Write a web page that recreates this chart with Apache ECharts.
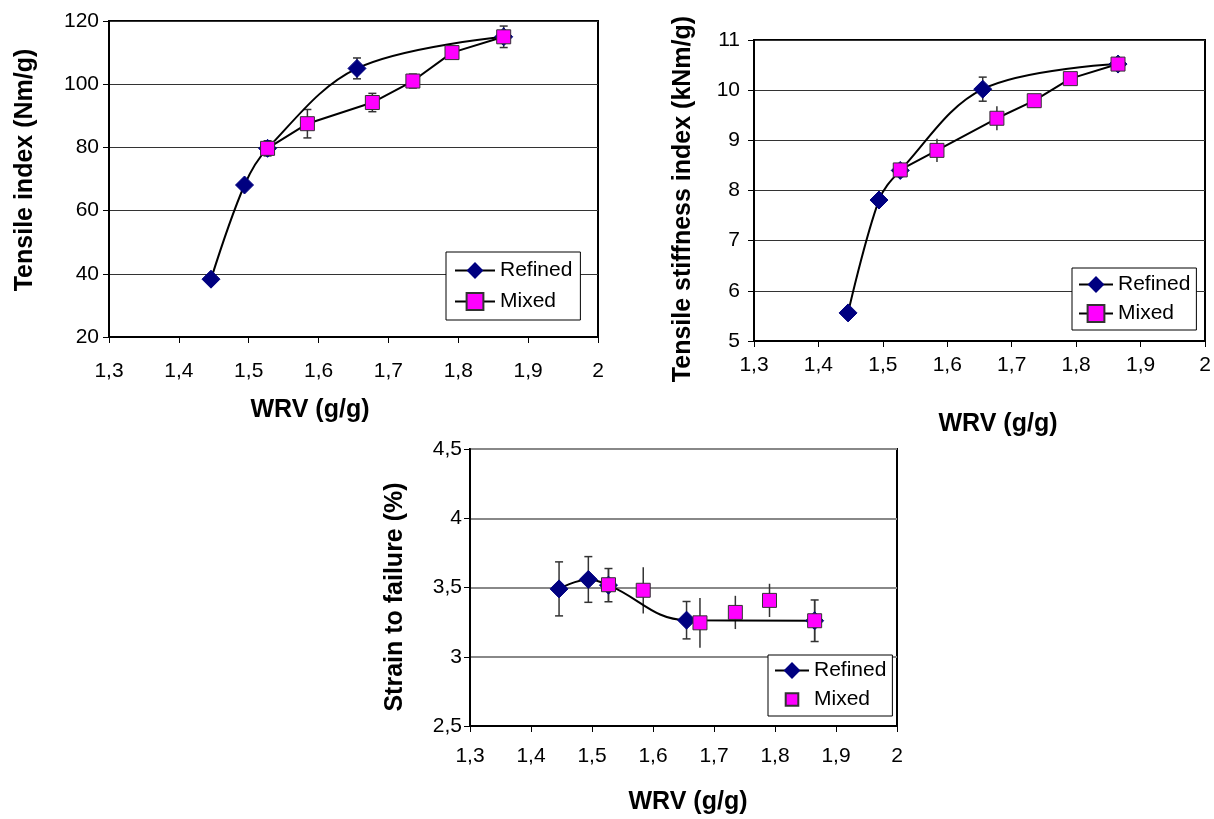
<!DOCTYPE html>
<html><head><meta charset="utf-8">
<script src="https://cdn.jsdelivr.net/npm/echarts@6/dist/echarts.min.js"></script>
<style>
html,body{margin:0;padding:0;background:#fff;width:1214px;height:819px;overflow:hidden}
.c{position:absolute;left:0;top:0;width:1214px;height:819px}
</style></head>
<body>
<div id="c1" class="c"></div><div id="c2" class="c"></div><div id="c3" class="c"></div>
<script>
// ---- data ----
const seriesNames = ['Refined', 'Mixed'];
const refinedX = [1.446, 1.494, 1.527, 1.655, 1.865];
const mixedX   = [1.527, 1.584, 1.677, 1.735, 1.791, 1.865];

const tensileRefined    = [38.3, 68.1, 79.7, 105.0, 115.0];
const tensileRefinedErr = [0, 0, 2.4, 3.3, 3.4];
const tensileMixed      = [79.7, 87.5, 94.2, 101.0, 110.0, 115.0];
const tensileMixedErr   = [1.5, 4.5, 2.9, 2.2, 1.0, 1.5];

const stiffRefined    = [5.56, 7.81, 8.40, 10.02, 10.52];
const stiffRefinedErr = [0, 0, 0.12, 0.24, 0.12];
const stiffMixed      = [8.41, 8.80, 9.44, 9.79, 10.23, 10.52];
const stiffMixedErr   = [0.1, 0.23, 0.24, 0.13, 0.12, 0.1];

const strainRefined    = [3.49, 3.558, 3.517, 3.264, 3.26];
const strainRefinedErr = [0.195, 0.165, 0.12, 0.135, 0.15];
const strainMixed      = [3.52, 3.48, 3.245, 3.32, 3.407, 3.26];
const strainMixedErr   = [0.12, 0.167, 0.18, 0.12, 0.12, 0.15];

const xTitle = 'WRV (g/g)';
const yTitles = ['Tensile index (Nm/g)', 'Tensile stiffness index (kNm/g)', 'Strain to failure (%)'];
const xRange = [1.3, 2, 0.1];
const yRanges = [[20, 120, 20], [5, 11, 1], [2.5, 4.5, 0.5]];

// ---- helpers ----
const FONT = '"Liberation Sans", Arial, sans-serif';
const fmt = v => String(Math.round(v * 10) / 10).replace('.', ',');
const pairs = (xs, ys) => xs.map((x, i) => [x, ys[i]]);
const errData = (xs, ys, es) => xs.map((x, i) => [x, ys[i] - es[i], ys[i] + es[i], es[i]]).filter(d => d[3] > 0);
// square legend icon with transparent margin so it stays small
const SQUARE = 'path://M-4,-4M0,0L12,0L12,12L0,12ZM16,16';

function errSeries(data, cap, color) {
  return {
    type: 'custom', z: 2, silent: true, data: data,
    encode: {x: 0, y: [1, 2]},
    renderItem: function (params, api) {
      const p1 = api.coord([api.value(0), api.value(1)]);
      const p2 = api.coord([api.value(0), api.value(2)]);
      const st = {stroke: color, lineWidth: 1.5};
      const ch = [{type: 'line', shape: {x1: p1[0], y1: p1[1], x2: p2[0], y2: p2[1]}, style: st}];
      if (cap) {
        ch.push({type: 'line', shape: {x1: p1[0] - 4, y1: p1[1], x2: p1[0] + 4, y2: p1[1]}, style: st});
        ch.push({type: 'line', shape: {x1: p2[0] - 4, y1: p2[1], x2: p2[0] + 4, y2: p2[1]}, style: st});
      }
      return {type: 'group', children: ch};
    }
  };
}

function build(cfg) {
  const yr = yRanges[cfg.idx];
  const series = [
    errSeries(errData(refinedX, cfg.ref, cfg.refErr), true, '#333'),
    errSeries(errData(mixedX, cfg.mix, cfg.mixErr), cfg.mixCap, '#333'),
    {
      name: seriesNames[0], type: 'line', z: 4, data: pairs(refinedX, cfg.ref), smooth: cfg.smooth,
      symbol: 'diamond', symbolSize: 18,
      itemStyle: {color: '#000080', borderColor: '#000080'},
      lineStyle: {color: '#000', width: 2}
    },
    cfg.mixLine ? {
      name: seriesNames[1], type: 'line', z: 5, data: pairs(mixedX, cfg.mix),
      symbol: 'rect', symbolSize: 14,
      itemStyle: {color: '#FF00FF', borderColor: '#333', borderWidth: 1},
      lineStyle: {color: '#000', width: 2}
    } : {
      name: seriesNames[1], type: 'scatter', z: 5, data: pairs(mixedX, cfg.mix),
      symbol: 'rect', symbolSize: 14,
      itemStyle: {color: '#FF00FF', borderColor: '#333', borderWidth: 1, opacity: 1}
    }
  ];
  const legendData = cfg.mixLine ? seriesNames : [seriesNames[0], {name: seriesNames[1], icon: SQUARE}];
  return {
    animation: false,
    backgroundColor: 'transparent',
    grid: {left: cfg.grid[0], top: cfg.grid[1], width: cfg.grid[2], height: cfg.grid[3],
           show: true, borderColor: '#000', borderWidth: 2, backgroundColor: 'transparent', containLabel: false},
    xAxis: {
      type: 'value', min: xRange[0], max: xRange[1], interval: xRange[2],
      axisLine: {show: true, onZero: false, lineStyle: {color: '#000', width: 2}},
      axisTick: {show: true, inside: false, length: 6, lineStyle: {color: '#000', width: 1}},
      axisLabel: {color: '#000', fontSize: 21, fontFamily: FONT, margin: cfg.xMargin, formatter: fmt},
      splitLine: {show: false}
    },
    yAxis: {
      type: 'value', min: yr[0], max: yr[1], interval: yr[2],
      axisLine: {show: true, onZero: false, lineStyle: {color: '#000', width: 2}},
      axisTick: {show: true, inside: false, length: 6, lineStyle: {color: '#000', width: 1}},
      axisLabel: {color: '#000', fontSize: 21, fontFamily: FONT, margin: cfg.yMargin, formatter: fmt},
      splitLine: {show: true, lineStyle: {color: cfg.splitColor, width: cfg.splitWidth}}
    },
    legend: {
      data: legendData, orient: 'vertical', left: cfg.legend[0], top: cfg.legend[1],
      backgroundColor: '#fff', borderColor: '#000', borderWidth: 1,
      padding: cfg.legendPad, itemGap: cfg.legendGap, itemWidth: cfg.legendIconW, itemHeight: 21,
      textStyle: {color: '#000', fontSize: 21, fontFamily: FONT}
    },
    graphic: [
      {type: 'text', x: cfg.yTitlePos[0], y: cfg.yTitlePos[1], rotation: Math.PI / 2, z: 10,
       style: {text: yTitles[cfg.idx], fontSize: 25, fontWeight: 'bold', fontFamily: FONT, fill: '#000',
               align: 'center', verticalAlign: 'middle'}},
      {type: 'text', x: cfg.xTitlePos[0], y: cfg.xTitlePos[1], z: 10,
       style: {text: xTitle, fontSize: 25, fontWeight: 'bold', fontFamily: FONT, fill: '#000',
               align: 'center', verticalAlign: 'middle'}}
    ],
    series: series
  };
}

const cfgs = [
  {idx: 0, ref: tensileRefined, refErr: tensileRefinedErr, mix: tensileMixed, mixErr: tensileMixedErr,
   mixLine: true, mixCap: true, smooth: 0.35, grid: [109, 21, 489, 316], xMargin: 24, yMargin: 10,
   splitColor: '#333', splitWidth: 1, legend: [446, 252], legendPad: [8, 8, 8, 8], legendGap: 10, legendIconW: 40,
   yTitlePos: [25, 170], xTitlePos: [310, 410]},
  {idx: 1, ref: stiffRefined, refErr: stiffRefinedErr, mix: stiffMixed, mixErr: stiffMixedErr,
   mixLine: true, mixCap: false, smooth: 0.35, grid: [754, 40, 451, 301], xMargin: 14, yMargin: 14,
   splitColor: '#333', splitWidth: 1, legend: [1072, 268], legendPad: [6, 6, 6, 6], legendGap: 8, legendIconW: 34,
   yTitlePos: [683, 199], xTitlePos: [998, 424]},
  {idx: 2, ref: strainRefined, refErr: strainRefinedErr, mix: strainMixed, mixErr: strainMixedErr,
   mixLine: false, mixCap: false, smooth: 0.4, grid: [470, 449, 427, 277], xMargin: 20, yMargin: 8,
   splitColor: '#888', splitWidth: 2, legend: [768, 655], legendPad: [5, 6, 5, 6], legendGap: 7, legendIconW: 34,
   yTitlePos: [395, 597], xTitlePos: [688, 802]}
];

['c1', 'c2', 'c3'].forEach((id, i) => {
  const ch = echarts.init(document.getElementById(id), null, {renderer: 'canvas'});
  ch.setOption(build(cfgs[i]));
});
</script>
</body></html>
